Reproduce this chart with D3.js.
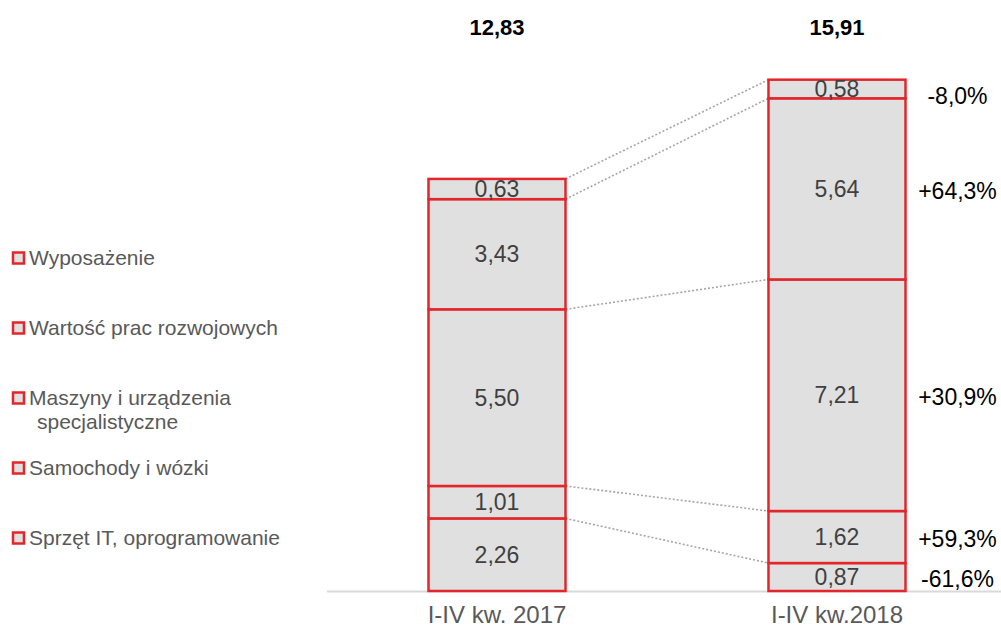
<!DOCTYPE html>
<html>
<head>
<meta charset="utf-8">
<script src="https://cdn.jsdelivr.net/npm/d3@7"></script>
<style>
  body { margin: 0; background: #fff; }
  svg { display: block; font-family: Arial, 'Liberation Sans', sans-serif; }
  .seg-label { fill: #404040; font-size: 23px; }
  .change-label { fill: #000; font-size: 23px; }
  .total-label { fill: #000; font-size: 22px; font-weight: bold; }
  .legend-label { fill: #595959; font-size: 21px; }
  .x-axis text { fill: #595959; font-size: 24px; }
</style>
</head>
<body>
<svg id="chart"></svg>
<script>
const RED = '#e3262b'
const FILL = '#e0e0e0'

// data, bottom segment first
const categories = ['I-IV kw. 2017', 'I-IV kw.2018'];
const series = ['Sprzęt IT, oprogramowanie', 'Samochody i wózki', 'Maszyny i urządzenia specjalistyczne', 'Wartość prac rozwojowych', 'Wyposażenie'];
const values2017 = [2.26, 1.01, 5.50, 3.43, 0.63];
const values2018 = [0.87, 1.62, 7.21, 5.64, 0.58];
const totals = [12.83, 15.91];
const changes = ['-61,6%', '+59,3%', '+30,9%', '+64,3%', '-8,0%'];
const legendLines = [['Sprzęt IT, oprogramowanie'], ['Samochody i wózki'], ['Maszyny i urządzenia', 'specjalistyczne'], ['Wartość prac rozwojowych'], ['Wyposażenie']];

const fmt = v => d3.format('.2f')(v).replace('.', ',');

const width = 1001, height = 630;
const svg = d3.select('#chart').attr('width', width).attr('height', height);

const x = d3.scaleBand()
  .domain(categories)
  .range([326.5, 1007.5])
  .paddingInner(0.597)
  .paddingOuter(0.3);

const y = d3.scaleLinear()
  .domain([0, d3.max(totals)])
  .range([591, 80]);

// build stacked segments per category
const columns = [values2017, values2018].map((vals, ci) => {
  let acc = 0;
  return vals.map((v, si) => {
    const seg = {cat: categories[ci], series: series[si], value: v, y0: acc, y1: acc + v, si};
    acc += v;
    return seg;
  });
});

// baseline / axis
const xAxis = d3.axisBottom(x).tickSize(0).tickSizeOuter(0).tickPadding(15);
svg.append('g')
  .attr('class', 'axis x-axis')
  .attr('transform', `translate(0,${y(0)})`)
  .call(xAxis)
  .attr('font-family', null)
  .attr('font-size', null)
  .call(g => g.select('.domain').attr('stroke', '#d9d9d9').attr('stroke-width', 2));

// dotted connectors between segment tops
svg.append('g')
  .attr('class', 'connectors')
  .selectAll('line')
  .data(series.map((s, i) => [columns[0][i], columns[1][i]]))
  .join('line')
  .attr('x1', x(categories[0]) + x.bandwidth())
  .attr('x2', x(categories[1]))
  .attr('y1', d => y(d[0].y1))
  .attr('y2', d => y(d[1].y1))
  .attr('stroke', '#a6a6a6')
  .attr('stroke-width', 1.6)
  .attr('stroke-dasharray', '2,2');

// bars
const bars = svg.append('g').attr('class', 'bars');
bars.selectAll('g')
  .data(columns)
  .join('g')
  .selectAll('rect')
  .data(d => d)
  .join('rect')
  .attr('x', d => x(d.cat))
  .attr('width', x.bandwidth())
  .attr('y', d => y(d.y1))
  .attr('height', d => y(d.y0) - y(d.y1))
  .attr('fill', FILL)
  .attr('stroke', RED)
  .attr('stroke-width', 2.5);

// segment values
svg.append('g')
  .selectAll('text')
  .data(columns.flat())
  .join('text')
  .attr('class', 'seg-label')
  .attr('x', d => x(d.cat) + x.bandwidth() / 2)
  .attr('y', d => y((d.y0 + d.y1) / 2))
  .attr('dy', '0.35em')
  .attr('text-anchor', 'middle')
  .text(d => fmt(d.value));

// totals
svg.append('g')
  .selectAll('text')
  .data(totals)
  .join('text')
  .attr('class', 'total-label')
  .attr('x', (d, i) => x(categories[i]) + x.bandwidth() / 2)
  .attr('y', 35)
  .attr('text-anchor', 'middle')
  .text(d => fmt(d));

// change labels next to 2018 bar
svg.append('g')
  .selectAll('text')
  .data(columns[1])
  .join('text')
  .attr('class', 'change-label')
  .attr('x', x(categories[1]) + x.bandwidth() + 52)
  .attr('y', d => y((d.y0 + d.y1) / 2) + (d.si === 4 ? 7 : 2))
  .attr('dy', '0.35em')
  .attr('text-anchor', 'middle')
  .text(d => changes[d.si]);

// legend, top entry first
const legend = svg.append('g').attr('class', 'legend')
  .selectAll('g')
  .data(legendLines.map((lines, i) => ({lines, i})).reverse())
  .join('g')
  .attr('transform', (d, k) => `translate(13,${258 + k * 70})`);

legend.append('rect')
  .attr('x', 0)
  .attr('y', -5.5)
  .attr('width', 11)
  .attr('height', 11)
  .attr('fill', FILL)
  .attr('stroke', RED)
  .attr('stroke-width', 2.5);

legend.append('text')
  .attr('class', 'legend-label')
  .selectAll('tspan')
  .data(d => d.lines)
  .join('tspan')
  .attr('x', (d, j) => j ? 24 : 16)
  .attr('y', (d, j) => j * 24)
  .attr('dy', '0.35em')
  .text(d => d);
</script>
</body>
</html>
